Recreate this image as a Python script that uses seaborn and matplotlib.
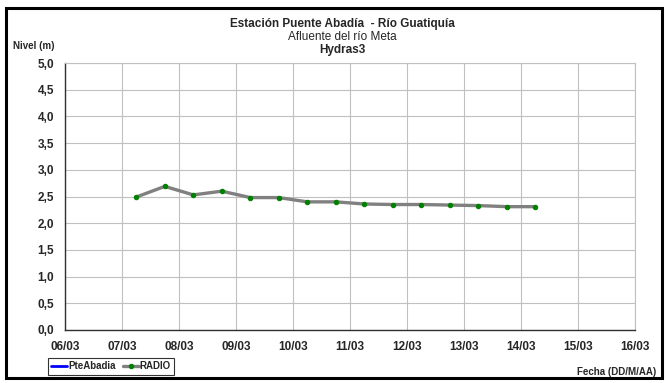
import pandas as pd
import numpy as np
import seaborn as sns
import matplotlib.pyplot as plt
import matplotlib.dates as mdates
from matplotlib.patches import Rectangle

# data (readings every 12 h)
fechas = pd.date_range("2012-03-07 06:00", periods=15, freq="12h")
radio = [2.49, 2.69, 2.53, 2.60, 2.48, 2.48, 2.40, 2.40, 2.36, 2.35,
         2.35, 2.34, 2.33, 2.31, 2.31]
pte_abadia = []  # no data in the period

y_ticks = np.arange(0, 5.01, 0.5)
x_start = pd.Timestamp("2012-03-06")
x_end = pd.Timestamp("2012-03-16")

df = pd.DataFrame({"fecha": fechas, "nivel": radio})

sns.set_style("white")
plt.rcParams["font.family"] = ["Liberation Sans", "DejaVu Sans"]

fig = plt.figure(figsize=(6.66, 3.83), dpi=100)
ax = fig.add_axes([0.0976, 0.1384, 0.8563, 0.697])

# empty series for the legend
ax.plot([], [], color="#0000ff", lw=2, label="PteAbadia")
sns.lineplot(data=df, x="fecha", y="nivel", ax=ax, color="#808080", lw=2.4,
             marker="o", markersize=3.2, markerfacecolor="#008000",
             markeredgecolor="#008000", label="RADIO")

ax.set_xlim(x_start, x_end)
ax.set_ylim(0, 5)
ax.set_yticks(y_ticks)
ax.set_yticklabels([f"{v:.1f}".replace(".", ",") for v in y_ticks],
                   fontweight="bold", fontsize=8.5)
ax.xaxis.set_major_locator(mdates.DayLocator())
ax.xaxis.set_major_formatter(mdates.DateFormatter("%d/%m"))
for lab in ax.get_xticklabels():
    lab.set_fontweight("bold")
    lab.set_fontsize(8.5)
ax.tick_params(axis="y", which="major", length=5, width=0.8, color="#404040",
               pad=3, direction="out")
ax.tick_params(axis="x", which="major", direction="inout", length=6, width=0.8,
               color="#404040", pad=5)
ax.grid(True, color="#c0c0c0", lw=0.8)
ax.set_xlabel("")
ax.set_ylabel("")
for side in ["top", "right"]:
    ax.spines[side].set_color("#c0c0c0")
    ax.spines[side].set_linewidth(0.8)
for side in ["left", "bottom"]:
    ax.spines[side].set_color("#303030")
    ax.spines[side].set_linewidth(1.0)

# titles
fig.text(0.514, 0.937, "Estación Puente Abadía  - Río Guatiquía", ha="center",
         va="center", fontsize=8.5, fontweight="bold")
fig.text(0.514, 0.903, "Afluente del río Meta", ha="center", va="center", fontsize=8.5)
fig.text(0.514, 0.869, "Hydras3", ha="center", va="center", fontsize=8.5,
         fontweight="bold")
fig.text(0.051, 0.88, "Nivel (m)", ha="center", va="center", fontsize=7,
         fontweight="bold")
fig.text(0.985, 0.03, "Fecha (DD/M/AA)", ha="right", va="center", fontsize=7,
         fontweight="bold")

leg = ax.legend(loc="upper left", bbox_to_anchor=(0.072, 0.066),
                bbox_transform=fig.transFigure, ncol=2, fontsize=7,
                frameon=True, fancybox=False, handlelength=1.6,
                handletextpad=0.1, columnspacing=0.8, borderpad=0.35,
                borderaxespad=0)
leg.get_frame().set_edgecolor("black")
leg.get_frame().set_linewidth(0.8)
for t in leg.get_texts():
    t.set_fontweight("bold")

# outer chart border
fig.patches.append(Rectangle((0.009, 0.013), 0.985, 0.967, transform=fig.transFigure,
                             fill=False, edgecolor="black", lw=2.2))

fig.savefig("out.png", dpi=100)
